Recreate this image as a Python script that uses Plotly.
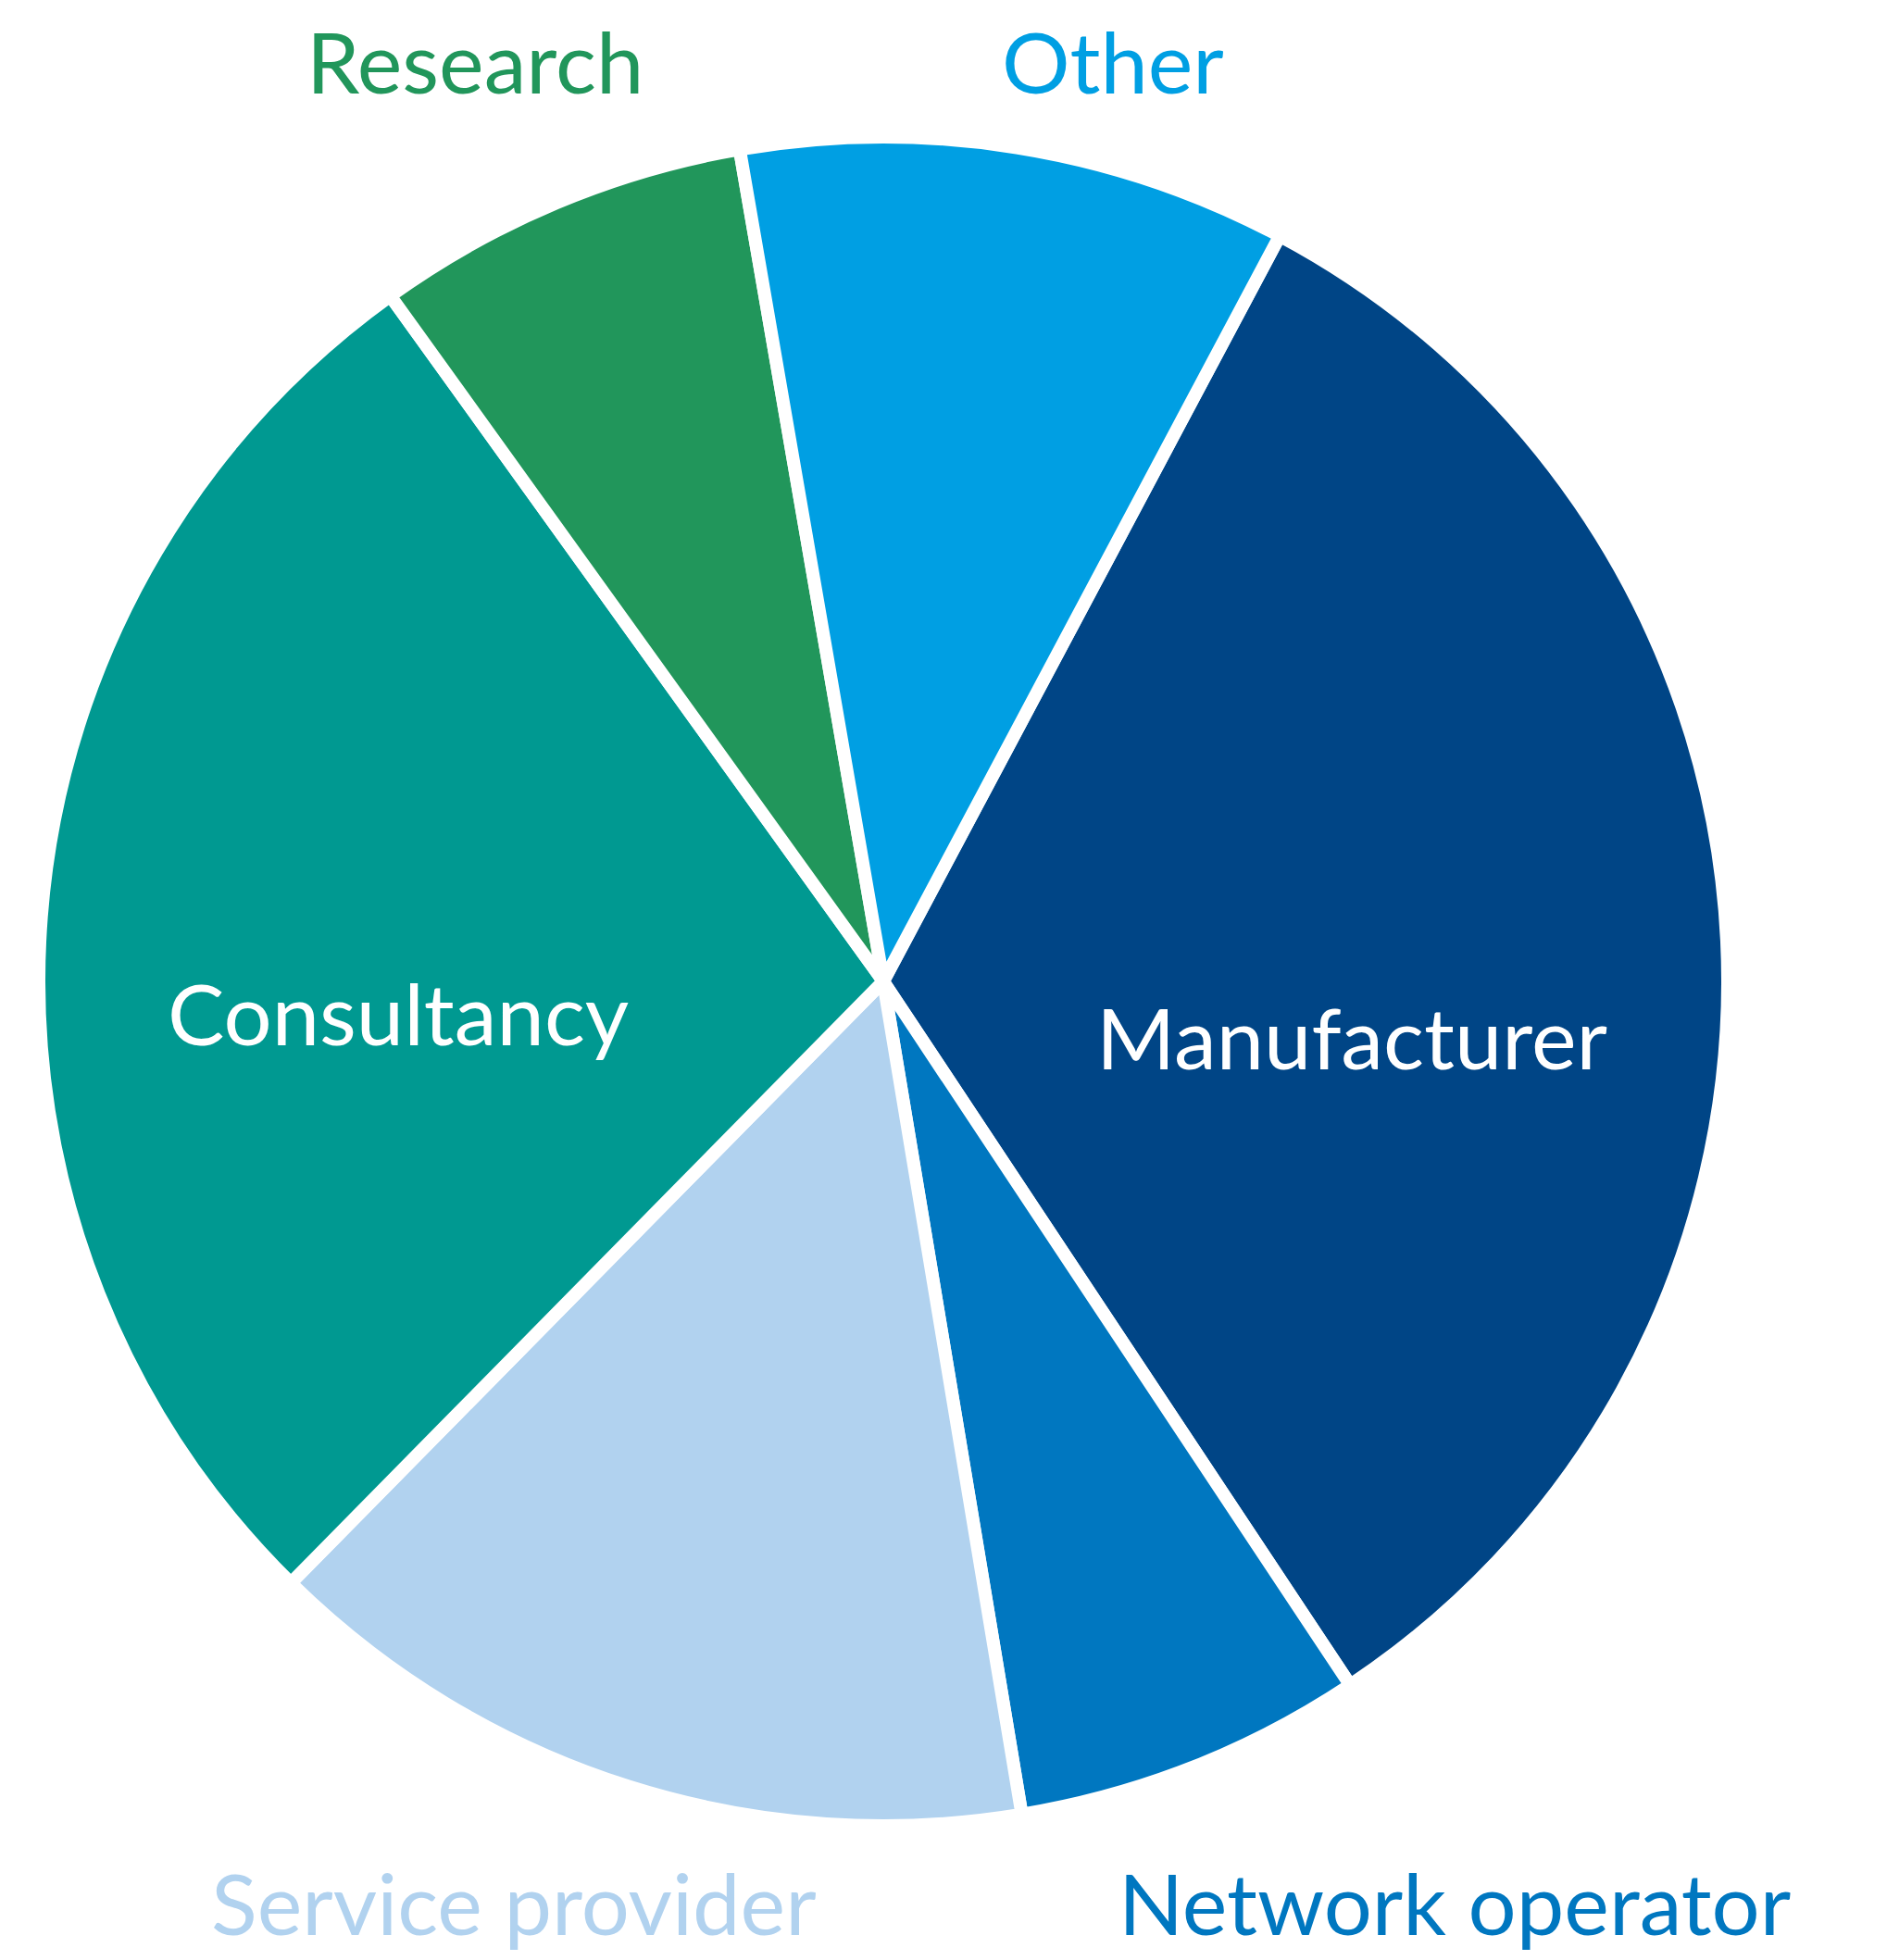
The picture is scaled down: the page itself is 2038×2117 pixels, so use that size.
import plotly.graph_objects as go

categories = ["Manufacturer", "Network operator", "Service provider", "Consultancy", "Research", "Other"]
shares = [32.9, 6.7, 15.0, 27.7, 7.2, 10.5]
colors = ["#004586", "#0077C0", "#B1D2EF", "#009991", "#21965B", "#009FE3"]
label_colors = ["#FFFFFF", "#0077C0", "#B1D2EF", "#FFFFFF", "#21965B", "#009FE3"]
# label positions in pixels (layout only); None in y means "anchored to the top edge"
label_pos = [(1452, 1111), (1563, 2046), (547, 2046), (422, 1085), (505, None), (1194, None)]

W, H = 2038, 2117
cx, cy, r = 946, 1052, 912

fig = go.Figure(go.Pie(
    labels=categories,
    values=shares,
    sort=False,
    direction="clockwise",
    rotation=28,
    marker=dict(colors=colors, line=dict(color="white", width=14)),
    textinfo="none",
    hoverinfo="label+percent",
    domain=dict(x=[(cx - r) / W, (cx + r) / W], y=[1 - (cy + r) / H, 1 - (cy - r) / H]),
    showlegend=False,
))

for name, col, (px, py) in zip(categories, label_colors, label_pos):
    if py is None:
        y, yanchor = 1.0, "top"
    else:
        y, yanchor = 1 - py / H, "middle"
    fig.add_annotation(
        text=name, x=px / W, y=y, xref="paper", yref="paper",
        xanchor="center", yanchor=yanchor, showarrow=False,
        font=dict(family="Lato", size=92, color=col),
    )

fig.update_layout(
    width=W, height=H,
    margin=dict(l=0, r=0, t=0, b=0),
    paper_bgcolor="white", plot_bgcolor="white",
)

fig.write_html("out.html")
